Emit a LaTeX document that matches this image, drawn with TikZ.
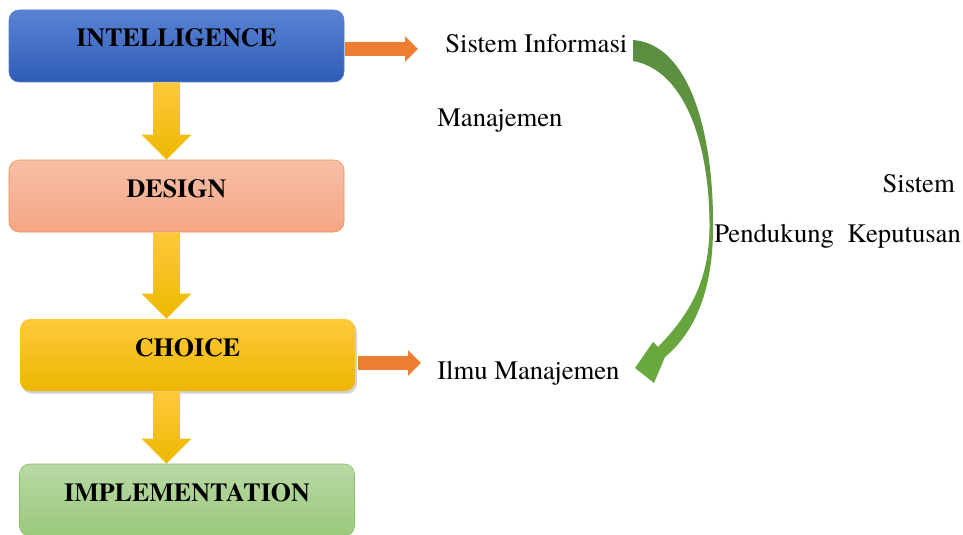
\documentclass[tikz,border=0pt]{standalone}
\usepackage{fontspec}
\setmainfont{texgyretermes}[Extension=.otf, UprightFont=*-regular,
  BoldFont=*-bold, ItalicFont=*-italic, BoldItalicFont=*-bolditalic]
\usetikzlibrary{arrows.meta,calc,shadows}
\definecolor{intelTop}{HTML}{5A83D4}
\definecolor{intelBot}{HTML}{2E5CB7}
\definecolor{designTop}{HTML}{F7BFA7}
\definecolor{designBot}{HTML}{F4A685}
\definecolor{designLine}{HTML}{F08C50}
\definecolor{choiceTop}{HTML}{FFC93A}
\definecolor{choiceBot}{HTML}{EDB700}
\definecolor{implTop}{HTML}{B9D9A5}
\definecolor{implBot}{HTML}{9BC87C}
\definecolor{implLine}{HTML}{88BC67}
\definecolor{flowTop}{HTML}{FFC83C}
\definecolor{flowBot}{HTML}{EDB900}
\definecolor{linkOrange}{HTML}{ED7D31}
\definecolor{arcTop}{HTML}{5B8D40}
\definecolor{arcBot}{HTML}{6AAA3D}
\tikzset{
    stage/.style={rounded corners=7.5pt, minimum width=251.25pt,
    	minimum height=54pt, inner sep=0pt, text height=14pt, text depth=12.5pt,
    	font=\fontsize{19.5}{22}\selectfont\bfseries}
}
\tikzset{
    textlabel/.style={inner sep=0pt, font=\fontsize{20}{24}\selectfont}
}
\tikzset{
    flowarrow/.style={top color=flowTop, bottom color=flowBot},
    link/.style={draw=linkOrange, line width=10.5pt,
    	-{Triangle[length=9.75pt,width=18.75pt]}},
    greenarc/.style={top color=arcTop, bottom color=arcBot}
}
% yellow block arrow from one stage down to the next
\newcommand{\blockdown}[3]{%
  \path[flowarrow] let \p0=(#3), \p1=(#1.south), \p2=(#2.north) in
    (\x0-10.1pt,\y1) -- (\x0+10.1pt,\y1) -- (\x0+10.1pt,\y2+18.75pt)
    -- (\x0+18.75pt,\y2+18.75pt) -- (\x0,\y2) -- (\x0-18.75pt,\y2+18.75pt)
    -- (\x0-10.1pt,\y2+18.75pt) -- cycle;
}

\begin{document}
\begin{tikzpicture}[x=0.75pt, y=-0.75pt]
  \useasboundingbox (0,0) rectangle (963,535);

  \node (intel) [stage, top color=intelTop, bottom color=intelBot, draw=intelBot!80]
    at (176.5, 46) {INTELLIGENCE};
  \node (design) [stage, top color=designTop, bottom color=designBot, draw=designLine]
    at (176.5, 196) {DESIGN};
  \node (choice) [stage, top color=choiceTop, bottom color=choiceBot,
    drop shadow={shadow xshift=1.5pt, shadow yshift=-2pt, opacity=.35}]
    at (187.5, 355) {CHOICE};
  \node (impl) [stage, top color=implTop, bottom color=implBot, draw=implLine]
    at (187, 500) {IMPLEMENTATION};

  \node (sim) [textlabel, anchor=base west] at (445, 53) {Sistem Informasi};
  \node (man) [textlabel, anchor=base west] at (437, 126) {Manajemen};
  \node (sis) [textlabel, anchor=base east] at (955, 192) {Sistem};
  \node (spk) [textlabel, anchor=base west] at (714, 242) {Pendukung~~Keputusan};
  \node (ilmu) [textlabel, anchor=base west] at (437, 379) {Ilmu Manajemen};

  \coordinate (axis) at (166.5, 0);
  \blockdown{intel}{design}{axis}
  \blockdown{design}{choice}{axis}
  \blockdown{choice}{impl}{axis}

  \draw[link] ($(intel.east)+(1,3)$) -- ($(intel.east -| sim.west)+(-27,3)$);
  \draw[link] ($(choice.east)+(3,8)$) -- ($(choice.east -| ilmu.west)+(-16,8)$);

  % curved arrow from SIM down to Ilmu Manajemen
  \path[greenarc] (633,40) .. controls (690,44) and (714,135) .. (713,228)
    .. controls (713,290) and (695,332) .. (665,357)
    -- (654,383) -- (635,368) -- (653,342) -- (658,347)
    .. controls (686,318) and (709,285) .. (709.5,228)
    .. controls (710,145) and (685,70) .. (633,61) -- cycle;
\end{tikzpicture}
\end{document}
